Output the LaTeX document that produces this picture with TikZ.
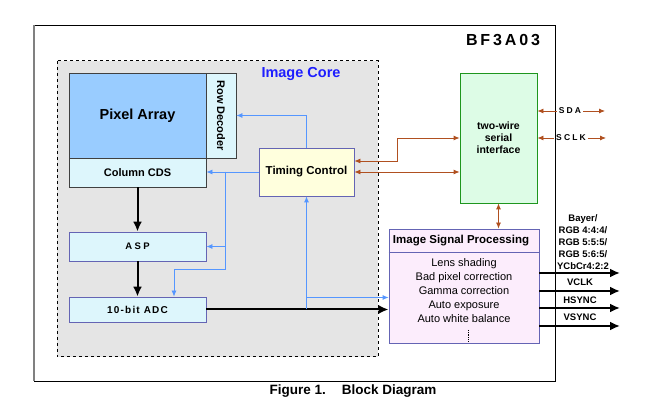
\documentclass[tikz,border=0pt]{standalone}
\usepackage{fontspec}
\setmainfont{Liberation Sans}
\usetikzlibrary{calc,shapes,arrows,arrows.meta}
\definecolor{pixblue}{RGB}{153,204,255}
\definecolor{paleblue}{RGB}{221,246,252}
\definecolor{paleyellow}{RGB}{255,255,221}
\definecolor{palegreen}{RGB}{221,252,230}
\definecolor{palepink}{RGB}{252,237,252}
\definecolor{ctrlblue}{RGB}{85,150,255}
\definecolor{busbrown}{RGB}{176,80,32}
\definecolor{edgeblue}{RGB}{100,100,180}
\definecolor{coreblue}{RGB}{30,30,255}
\definecolor{edgegreen}{RGB}{30,150,30}
\tikzset{
  blk/.style={draw, rectangle, inner sep=0pt, line width=0.8pt, font=\bfseries\fontsize{11}{13}\selectfont},
  ctrlline/.style={ctrlblue, line width=0.8pt, -{Latex[length=6pt,width=5pt]}},
  busline/.style={busbrown, line width=0.8pt},
  bustip/.style={{Latex[length=6pt,width=5pt]}-{Latex[length=6pt,width=5pt]}},
  dataline/.style={black, line width=2pt, -{Latex[length=10pt,width=9pt]}},
  outlbl/.style={font=\bfseries\fontsize{9.5}{12}\selectfont, inner sep=0pt, align=center}
}
\begin{document}
\begin{tikzpicture}[x=1pt,y=-1pt]
    \useasboundingbox (0,0) rectangle (649,406);
    \draw (34,25) rectangle (555,381);
    \draw[gray, line width=1.5pt] (34,25) -- (34,381);
    \draw[dashed, line width=1pt, fill=gray!20] (57,61) rectangle (378,357);
    \node[font=\bfseries\fontsize{14.5}{16}\selectfont, text=coreblue] (core) at (301,74) {Image Core};
    \node[font=\bfseries\fontsize{16}{18}\selectfont\addfontfeatures{LetterSpace=18}] (chip) at (503,40) {BF3A03};

    \node[blk, fill=pixblue, draw=black!75, minimum width=137, minimum height=85,
        font=\bfseries\fontsize{14.5}{16}\selectfont] (pix) at (137.5,115.5) {Pixel Array};
    \node[blk, fill=paleblue, draw=black!75, minimum width=30, minimum height=85] (row) at (221,115.5) {};
    \node[rotate=-90, font=\bfseries\fontsize{11}{13}\selectfont] (rowlbl) at (row) {Row Decoder};
    \node[blk, fill=paleblue, draw=black!75, minimum width=137, minimum height=29] (cds) at (137.5,172.5) {Column CDS};
    \node[blk, fill=paleyellow, draw=edgeblue, minimum width=95, minimum height=48,
        font=\bfseries\fontsize{11.5}{13}\selectfont] (tim) at (306.5,172) {Timing Control};
    \node[blk, fill=paleblue, draw=edgeblue, minimum width=137, minimum height=29,
        font=\bfseries\fontsize{9.5}{11}\selectfont\addfontfeatures{LetterSpace=25}] (asp) at (137.5,246.5) {ASP};
    \node[blk, fill=paleblue, draw=edgeblue, minimum width=137, minimum height=25,
        font=\bfseries\fontsize{10}{11}\selectfont\addfontfeatures{LetterSpace=12}] (adc) at (137.5,309.5) {10-bit ADC};
    \node[blk, fill=palegreen, draw=edgegreen, minimum width=77, minimum height=130, align=center,
        font=\bfseries\fontsize{10.5}{12}\selectfont] (twi) at (498.5,138) {two-wire\\serial\\interface};
    \node[blk, fill=palepink, draw=edgeblue, minimum width=150, minimum height=114] (isp) at (464,286) {};
    \draw[edgeblue, line width=0.8pt] ([yshift=-24pt]isp.north west) -- ([yshift=-24pt]isp.north east);
    \node[font=\bfseries\fontsize{11.5}{13}\selectfont] (isphead) at (461,241) {Image Signal Processing};
    \node[align=center, font=\fontsize{11}{14}\selectfont] (ispbody) at (464,291)
        {Lens shading\\Bad pixel correction\\Gamma correction\\Auto exposure\\Auto white balance};
    \draw[densely dotted, line width=0.8pt] (468,330) -- (468,341);

    \draw[dataline] (cds) -- (asp);
    \draw[dataline] (asp) -- (adc);
    \draw[dataline] (adc.east) -- (adc.east -| isp.west);

    \coordinate (br) at (225,172);
    \coordinate (tap) at (tim.south |- adc.east);
    \coordinate (tap2) at ([yshift=12pt]tap);
    \draw[ctrlline] (tim.north) |- (row.east);
    \draw[ctrlline] (tim.west) -- (tim.west -| cds.east);
    \draw[ctrlline] (br) |- (asp.east);
    \draw[ctrlline] (br) -- ++(0,97) -| ([xshift=36.5pt]adc.north);
    \draw[ctrlline] (tap) -- (tim.south);
    \draw[ctrlline] (tap2) -- (tap2 -| isp.west);

    \draw[busline, bustip] ([yshift=11pt]tim.east) -- ++(43,0) |- (twi.west);
    \draw[busline, bustip] (tim.east) -- (tim.east -| twi.west);
    \draw[busline, bustip] (twi.south) -- (twi.south |- isp.north);

    \node[outlbl, font=\bfseries\fontsize{8.5}{12}\selectfont\addfontfeatures{LetterSpace=25}] (sda) at (570,111) {SDA};
    \node[outlbl, font=\bfseries\fontsize{8.5}{12}\selectfont\addfontfeatures{LetterSpace=25}] (sclk) at (571,138) {SCLK};
    \coordinate (sdaend) at (605,111);
    \coordinate (sclkend) at (606,138);
    \draw[busline, {Latex[length=6pt,width=5pt]}-] (sda -| twi.east) -- ([xshift=-2pt]sda.west);
    \draw[busline, -{Latex[length=6pt,width=5pt]}] ([xshift=2pt]sda.east) -- (sdaend);
    \draw[busline, {Latex[length=6pt,width=5pt]}-] (sclk -| twi.east) -- ([xshift=-2pt]sclk.west);
    \draw[busline, -{Latex[length=6pt,width=5pt]}] ([xshift=2pt]sclk.east) -- (sclkend);

    \foreach \n/\y in {1/273, 2/291, 3/308, 4/326}
        \coordinate (out\n) at (620,\y);
    \foreach \n in {1,...,4}
        \draw[dataline] (isp.east |- out\n) -- (out\n);
    \node[outlbl] (fmt) at (583,242) {Bayer/\\RGB 4:4:4/\\RGB 5:5:5/\\RGB 5:6:5/\\YCbCr4:2:2};
    \node[outlbl] (vclk) at (580,282) {VCLK};
    \node[outlbl] (hsync) at (580,300) {HSYNC};
    \node[outlbl] (vsync) at (580,317) {VSYNC};

    \node[font=\bfseries\fontsize{13.5}{15}\selectfont] (cap) at (353,391) {Figure 1.\hspace{1.2em}Block Diagram};
\end{tikzpicture}
\end{document}
